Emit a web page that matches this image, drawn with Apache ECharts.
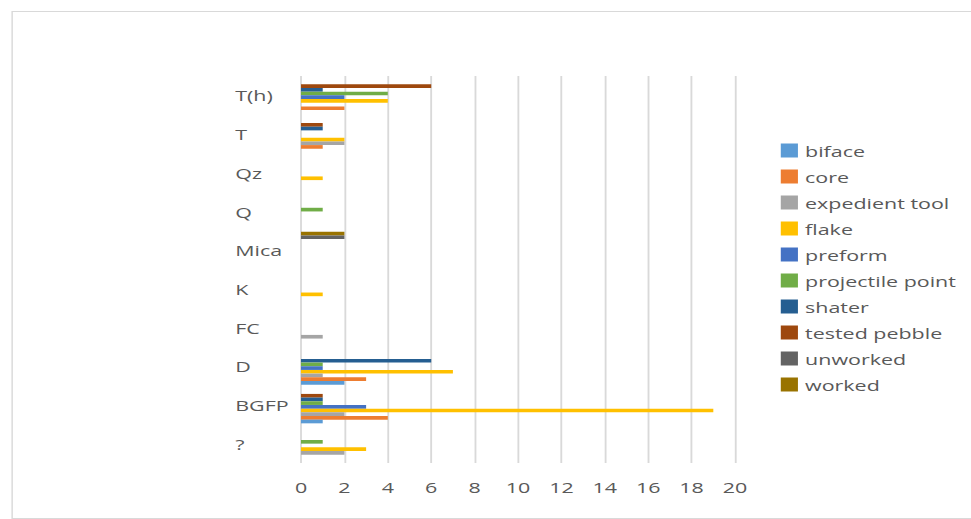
<!DOCTYPE html>
<html>
<head>
<meta charset="utf-8">
<script src="https://cdn.jsdelivr.net/npm/echarts@6/dist/echarts.min.js"></script>
<style>
  html, body { margin: 0; padding: 0; background: #fff; overflow: hidden; }
  /* the source picture is stretched sideways, so draw narrow and widen it */
  #chart { width: 679px; height: 519px; transform: scaleX(1.43); transform-origin: 0 0; }
</style>
</head>
<body>
<div id="chart"></div>
<script>
// categories bottom to top
const categories = ["?", "BGFP", "D", "FC", "K", "Mica", "Q", "Qz", "T", "T(h)"];
const xTicks = [0, 2, 4, 6, 8, 10, 12, 14, 16, 18, 20];

const biface          = [0, 1, 2, 0, 0, 0, 0, 0, 0, 0];
const core            = [0, 4, 3, 0, 0, 0, 0, 0, 1, 2];
const expedientTool   = [2, 2, 1, 1, 0, 0, 0, 0, 2, 0];
const flake           = [3, 19, 7, 0, 1, 0, 0, 1, 2, 4];
const preform         = [0, 3, 1, 0, 0, 0, 0, 0, 0, 2];
const projectilePoint = [1, 1, 1, 0, 0, 0, 1, 0, 0, 4];
const shater          = [0, 1, 6, 0, 0, 0, 0, 0, 1, 1];
const testedPebble    = [0, 1, 0, 0, 0, 0, 0, 0, 1, 6];
const unworked        = [0, 0, 0, 0, 0, 2, 0, 0, 0, 0];
const worked          = [0, 0, 0, 0, 0, 2, 0, 0, 0, 0];

const seriesList = [
  ["biface", biface, "#5B9BD5"],
  ["core", core, "#ED7D31"],
  ["expedient tool", expedientTool, "#A5A5A5"],
  ["flake", flake, "#FFC000"],
  ["preform", preform, "#4472C4"],
  ["projectile point", projectilePoint, "#70AD47"],
  ["shater", shater, "#255E91"],
  ["tested pebble", testedPebble, "#9E480E"],
  ["unworked", unworked, "#636363"],
  ["worked", worked, "#997300"]
];

const font = "'Open Sans', sans-serif";
const chart = echarts.init(document.getElementById("chart"), null, { renderer: "svg" });
chart.setOption({
  animation: false,
  backgroundColor: "#fff",
  graphic: [{
    type: "rect",
    left: 6, top: 9,
    shape: { width: 700, height: 507 },
    style: { fill: "none", stroke: "#d9d9d9", lineWidth: 1 },
    silent: true
  }],
  grid: { left: 210.5, right: 165, top: 76, bottom: 56 },
  legend: {
    orient: "vertical",
    left: 541,
    top: 138,
    icon: "rect",
    itemWidth: 12,
    itemHeight: 14,
    itemGap: 11,
    textStyle: { color: "#595959", fontSize: 15, fontFamily: font },
    data: seriesList.map(s => s[0])
  },
  xAxis: {
    type: "value",
    min: xTicks[0],
    max: xTicks[xTicks.length - 1],
    interval: 2,
    axisLine: { show: false },
    axisTick: { show: false },
    axisLabel: { color: "#595959", fontSize: 15, fontFamily: font, margin: 16 },
    splitLine: { lineStyle: { color: "#d9d9d9", width: 1.3 } }
  },
  yAxis: {
    type: "category",
    data: categories,
    axisLine: { show: false },
    axisTick: { show: false },
    axisLabel: { color: "#595959", fontSize: 15, fontFamily: font, align: "left", margin: 46 }
  },
  // echarts stacks a group's first series at the top, the source has it at the bottom
  series: seriesList.slice().reverse().map(([name, data, color]) => ({
    name,
    type: "bar",
    data,
    itemStyle: { color },
    barGap: "0%",
    barCategoryGap: "5%"
  }))
});
</script>
</body>
</html>
